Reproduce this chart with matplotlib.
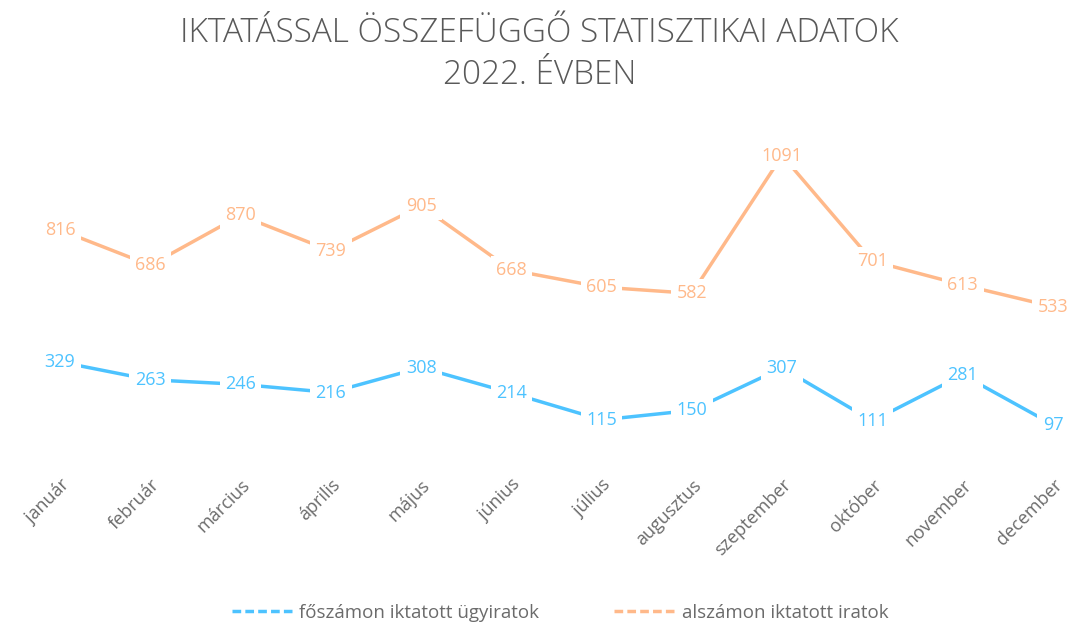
import matplotlib.pyplot as plt
from matplotlib.lines import Line2D

# data
months = ["január", "február", "március", "április", "május", "június",
          "július", "augusztus", "szeptember", "október", "november", "december"]
fo_szam = [329, 263, 246, 216, 308, 214, 115, 150, 307, 111, 281, 97]
al_szam = [816, 686, 870, 739, 905, 668, 605, 582, 1091, 701, 613, 533]
labels = ["főszámon iktatott ügyiratok", "alszámon iktatott iratok"]

BLUE = "#4DC3FF"
ORANGE = "#FFB98A"
GREY = "#595959"
FONT = ["Open Sans", "DejaVu Sans"]

fig = plt.figure(figsize=(10.79, 6.30), dpi=100)
ax = fig.add_axes([60 / 1079, 1 - 451 / 630, (1053 - 60) / 1079, 325 / 630])
x = list(range(len(months)))

for vals, col in [(fo_szam, BLUE), (al_szam, ORANGE)]:
    ax.plot(x, vals, color=col, lw=2.5, solid_capstyle="round", clip_on=False)
    for xi, v in zip(x, vals):
        ax.text(xi, v, str(v), color=col, fontsize=13, ha="center", va="center",
                family=FONT, clip_on=False,
                bbox=dict(boxstyle="square,pad=0.3", fc="white", ec="none"))

ax.set_xlim(0, 11)
ax.set_ylim(0, 1200)
ax.set_yticks([])
ax.set_xticks(x)
ax.set_xticklabels(months, rotation=45, ha="right", rotation_mode="anchor",
                   fontsize=13, color="#6b6b6b", family=FONT)
ax.tick_params(axis="x", length=0, pad=18)
for s in ax.spines.values():
    s.set_visible(False)

fig.text(0.5, 1 - 33 / 630, "IKTATÁSSAL ÖSSZEFÜGGŐ STATISZTIKAI ADATOK",
         ha="center", va="center", fontsize=24, color=GREY, family=FONT,
         fontweight="light")
fig.text(0.5, 1 - 75 / 630, "2022. ÉVBEN", ha="center", va="center",
         fontsize=24, color=GREY, family=FONT, fontweight="light")

handles = [Line2D([], [], color=BLUE, lw=2.5, ls=(0, (2.5, 1.2))),
           Line2D([], [], color=ORANGE, lw=2.5, ls=(0, (2.5, 1.2)))]
fig.legend(handles, labels, loc="center", bbox_to_anchor=(560 / 1079, 1 - 613 / 630),
           ncol=2, frameon=False, handlelength=3.2, handletextpad=0.4,
           columnspacing=4, labelcolor="#6b6b6b", prop={"family": FONT, "size": 13.5})

fig.savefig("out.png", dpi=100, facecolor="white")
